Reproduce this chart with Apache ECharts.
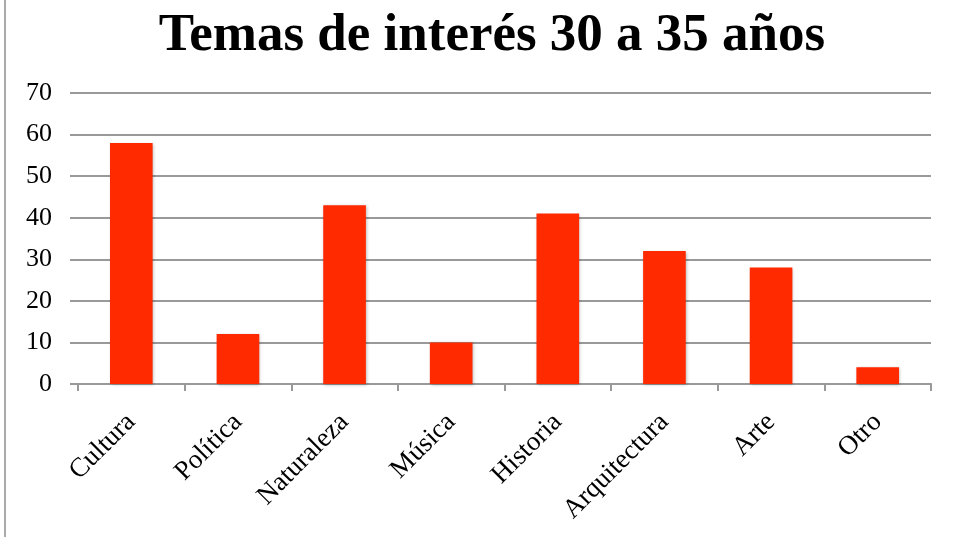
<!DOCTYPE html>
<html><head><meta charset="utf-8">
<script src="https://cdn.jsdelivr.net/npm/echarts@6/dist/echarts.min.js"></script>
<style>html,body{margin:0;padding:0;background:#fff}#c{width:955px;height:537px}</style>
</head><body><div id="c"></div>
<script>
const categories = ['Cultura','Política','Naturaleza','Música','Historia','Arquitectura','Arte','Otro'];
const values = [58, 12, 43, 10, 41, 32, 28, 4];
const titleText = 'Temas de interés 30 a 35 años';
const chart = echarts.init(document.getElementById('c'));
const serif = '"Liberation Serif", "DejaVu Serif", serif';
chart.setOption({
  animation: false,
  backgroundColor: '#fff',
  title: {
    text: titleText, left: 487, textAlign: 'center', top: 5,
    textStyle: {fontFamily: serif, fontWeight: 'bold', fontSize: 53, color: '#000'}
  },
  graphic: [{type: 'line', shape: {x1: 5, y1: 0, x2: 5, y2: 537}, style: {stroke: '#aaa', lineWidth: 2}}],
  grid: {left: 78, right: 24, top: 93, bottom: 153, containLabel: false},
  xAxis: {
    type: 'category', data: categories,
    axisLine: {lineStyle: {color: '#999', width: 2}},
    axisTick: {show: true, length: 7, lineStyle: {color: '#999', width: 2}},
    axisLabel: {rotate: 45, fontFamily: serif, fontSize: 27, color: '#000', margin: 34, interval: 0}
  },
  yAxis: {
    type: 'value', min: 0, max: 70, interval: 10,
    axisLine: {show: false},
    axisTick: {show: true, length: 8, lineStyle: {color: '#999', width: 2}},
    splitLine: {lineStyle: {color: '#999', width: 2}},
    axisLabel: {fontFamily: serif, fontSize: 26, color: '#000', margin: 26}
  },
  series: [{
    type: 'bar', data: values, barWidth: '40%',
    itemStyle: {color: '#ff2a00', shadowColor: 'rgba(0,0,0,0.25)', shadowBlur: 3, shadowOffsetX: 1, shadowOffsetY: 1}
  }]
});
</script></body></html>
